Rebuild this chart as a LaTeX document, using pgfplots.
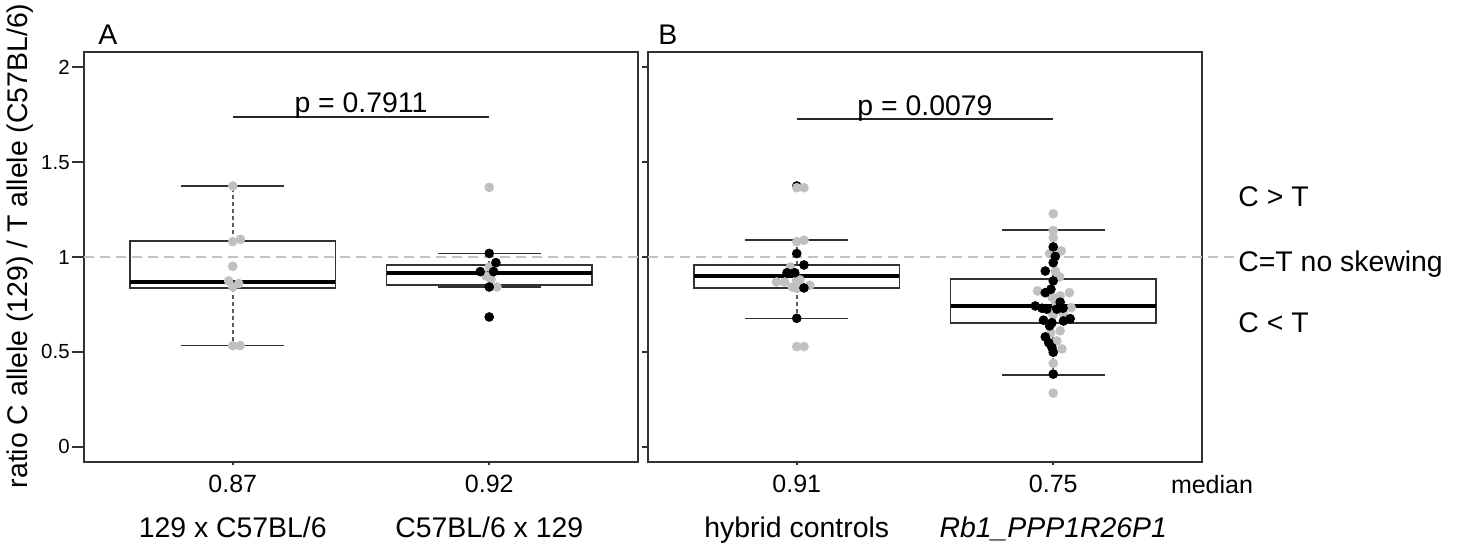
\documentclass[border=0pt]{standalone}
\usepackage{fontspec}
\setmainfont{Liberation Sans}
\usepackage{pgfplots}
\pgfplotsset{compat=1.18}
\usepgfplotslibrary{statistics}

\definecolor{ptgray}{RGB}{192,192,192}
\definecolor{framegray}{RGB}{50,50,50}
\definecolor{dashgray}{RGB}{195,195,195}
\definecolor{whgray}{RGB}{90,90,90}
\newcommand\bigf{\fontsize{14.2}{16}\selectfont}
\newcommand\medf{\fontsize{12.5}{15}\selectfont}
\newcommand\smf{\fontsize{10.2}{12}\selectfont}

\pgfplotsset{
  panel/.style={
    scale only axis, height=205pt,
    xmin=0.42, xmax=2.58, ymin=-0.08, ymax=2.08,
    axis line style={framegray, line width=0.8pt},
    xtick={1,2}, xticklabels={},
    ytick={0,0.5,1,1.5,2},
    xtick pos=bottom, ytick pos=left,
    tick align=outside,
    major tick length=6pt,
    tick style={framegray, line width=0.75pt},
    xtick style={/pgfplots/major tick length=1.5pt},
    yticklabel style={font=\smf, inner sep=1pt},
    /pgf/number format/assume math mode=true,
    clip=false,
    boxplot/draw direction=y,
    boxplot/every median/.style={black, line width=2pt},
    boxplot/draw/lower whisker/.code={%
      \draw[whgray, line width=0.9pt, dash pattern=on 2.2pt off 1.3pt]
        (boxplot box cs:\pgfplotsboxplotvalue{lower quartile},0.5) --
        (boxplot box cs:\pgfplotsboxplotvalue{lower whisker},0.5);
      \draw[framegray, line width=0.8pt, solid]
        (boxplot whisker cs:\pgfplotsboxplotvalue{lower whisker},0) --
        (boxplot whisker cs:\pgfplotsboxplotvalue{lower whisker},1);
    },
    boxplot/draw/upper whisker/.code={%
      \draw[whgray, line width=0.9pt, dash pattern=on 2.2pt off 1.3pt]
        (boxplot box cs:\pgfplotsboxplotvalue{upper quartile},0.5) --
        (boxplot box cs:\pgfplotsboxplotvalue{upper whisker},0.5);
      \draw[framegray, line width=0.8pt, solid]
        (boxplot whisker cs:\pgfplotsboxplotvalue{upper whisker},0) --
        (boxplot whisker cs:\pgfplotsboxplotvalue{upper whisker},1);
    },
  },
  bx/.style={draw=framegray, line width=0.8pt, solid, fill=none},
  gpts/.style={only marks, mark=*, mark size=2.2pt, color=ptgray, mark options={draw=ptgray, fill=ptgray}},
  bpts/.style={only marks, mark=*, mark size=2.2pt, color=black, mark options={draw=black, fill=black}},
  dline/.style={dashgray, line width=1pt, dash pattern=on 5pt off 3pt},
  pline/.style={black!85, line width=1pt},
}

\begin{document}
\begin{tikzpicture}
\path[use as bounding box] (-42pt,-41pt) rectangle (689.5pt,231pt);

% ---------------- Panel A ----------------
\begin{axis}[panel, name=A, width=277pt,
  yticklabels={0,0.5,1,1.5,2},
  ylabel={ratio C allele (129) / T allele (C57BL/6)},
  ylabel style={font=\bigf, at={(axis description cs:-0.1155,0.527)}, anchor=center},
]
\addplot[dline] coordinates {(0.42,1) (2.619,1)};

\addplot[bx, boxplot prepared={draw position=1, median=0.868, upper quartile=1.084,
  lower quartile=0.837, upper whisker=1.374, lower whisker=0.533,
  box extend=0.8, whisker extend=0.4}] coordinates {};
\addplot[bx, boxplot prepared={draw position=2, median=0.916, upper quartile=0.958,
  lower quartile=0.853, upper whisker=1.019, lower whisker=0.842,
  box extend=0.8, whisker extend=0.4}] coordinates {};

% 129 x C57BL/6
\addplot[gpts] coordinates {(1,1.374) (1,1.081) (1.030,1.093) (1,0.951)
  (0.984,0.874) (1.023,0.860) (1,0.842) (1,0.533) (1.029,0.533)};
% C57BL/6 x 129
\addplot[gpts] coordinates {(2,1.367) (2,0.947) (1.987,0.900) (2.007,0.883) (2.030,0.842)};
\addplot[bpts] coordinates {(2,1.019) (2.026,0.970) (1.965,0.923) (2.017,0.923) (2,0.842) (2,0.684)};

\addplot[pline] coordinates {(1,1.74) (2,1.74)};
\node[font=\bigf, anchor=base] at (axis cs:1.5,1.74) [yshift=1.8pt] {p = 0.7911};

\node[font=\bigf, anchor=base west, inner sep=0pt] at (rel axis cs:0,1) [xshift=7pt, yshift=3.5pt] {A};
\node[font=\medf, anchor=base] at (axis cs:1,-0.08) [yshift=-15.5pt] {0.87};
\node[font=\medf, anchor=base] at (axis cs:2,-0.08) [yshift=-15.5pt] {0.92};
\node[font=\bigf, anchor=base] at (axis cs:1,-0.08) [yshift=-38pt] {129 x C57BL/6};
\node[font=\bigf, anchor=base] at (axis cs:2,-0.08) [yshift=-38pt] {C57BL/6 x 129};
\end{axis}

% ---------------- Panel B ----------------
\begin{axis}[panel, name=B, width=277pt, at={(282pt,0)}, anchor=south west,
  yticklabels={}, major tick length=3pt,
]
\addplot[dline] coordinates {(0.42,1) (2.716,1)};

\addplot[bx, boxplot prepared={draw position=1, median=0.900, upper quartile=0.958,
  lower quartile=0.837, upper whisker=1.089, lower whisker=0.677,
  box extend=0.8, whisker extend=0.4}] coordinates {};
\addplot[bx, boxplot prepared={draw position=2, median=0.742, upper quartile=0.884,
  lower quartile=0.653, upper whisker=1.142, lower whisker=0.379,
  box extend=0.8, whisker extend=0.4}] coordinates {};

% hybrid controls
\addplot[bpts] coordinates {(1,1.374)};
\addplot[gpts] coordinates {(1,1.365) (1.028,1.365) (1,1.081) (1.028,1.088)
  (0.975,0.947) (1,0.877) (0.921,0.868) (0.953,0.868) (0.983,0.842) (1.001,0.835)
  (1.051,0.851) (1.012,0.880) (1,0.528) (1.028,0.528)};
\addplot[bpts] coordinates {(1,1.018) (1.028,0.958) (0.962,0.917) (0.992,0.917)
  (1.028,0.837) (1,0.677)};

% Rb1_PPP1R26P1
\addplot[gpts] coordinates {(2,1.228) (2,1.140) (2,1.102) (1.986,1.018) (2.031,1.032)
  (2.008,0.926) (2.025,0.895) (1.939,0.821) (1.995,0.789) (2.027,0.795) (2.063,0.812)
  (2.070,0.733) (1.999,0.695) (2.027,0.611) (2.014,0.558) (2.034,0.516) (2,0.440)
  (2,0.283) (2.010,0.760) (2.040,0.700) (1.990,0.600)};
\addplot[bpts] coordinates {(2,1.053) (2.008,1.003) (2,0.970) (1.969,0.926) (2,0.874)
  (1.991,0.830) (1.969,0.812) (2.027,0.762) (1.930,0.742) (1.956,0.730) (1.975,0.725)
  (2.014,0.725) (2.038,0.730) (1.962,0.667) (1.995,0.654) (2.040,0.663) (2.066,0.675)
  (1.986,0.637) (1.969,0.579) (1.982,0.549) (1.995,0.523) (2,0.498) (2,0.383)};

\addplot[pline] coordinates {(1,1.727) (2,1.727)};
\node[font=\bigf, anchor=base] at (axis cs:1.5,1.727) [yshift=1.8pt] {p = 0.0079};

\node[font=\bigf, anchor=base west, inner sep=0pt] at (rel axis cs:0,1) [xshift=5pt, yshift=3.5pt] {B};
\node[font=\medf, anchor=base] at (axis cs:1,-0.08) [yshift=-15.5pt] {0.91};
\node[font=\medf, anchor=base] at (axis cs:2,-0.08) [yshift=-15.5pt] {0.75};
\node[font=\medf, anchor=base] at (rel axis cs:1,0) [xshift=5pt, yshift=-16pt] {median};
\node[font=\bigf, anchor=base] at (axis cs:1,-0.08) [yshift=-38pt] {hybrid controls};
\node[font=\bigf, anchor=base] at (axis cs:2,-0.08) [yshift=-38pt] {\itshape Rb1\_PPP1R26P1};

\node[font=\bigf, anchor=base west, inner sep=0pt] at (axis cs:2.58,1.268) [xshift=18pt] {C > T};
\node[font=\bigf, anchor=base west, inner sep=0pt] at (axis cs:2.58,0.926) [xshift=18pt] {C=T no skewing};
\node[font=\bigf, anchor=base west, inner sep=0pt] at (axis cs:2.58,0.600) [xshift=18pt] {C < T};
\end{axis}
\end{tikzpicture}
\end{document}
